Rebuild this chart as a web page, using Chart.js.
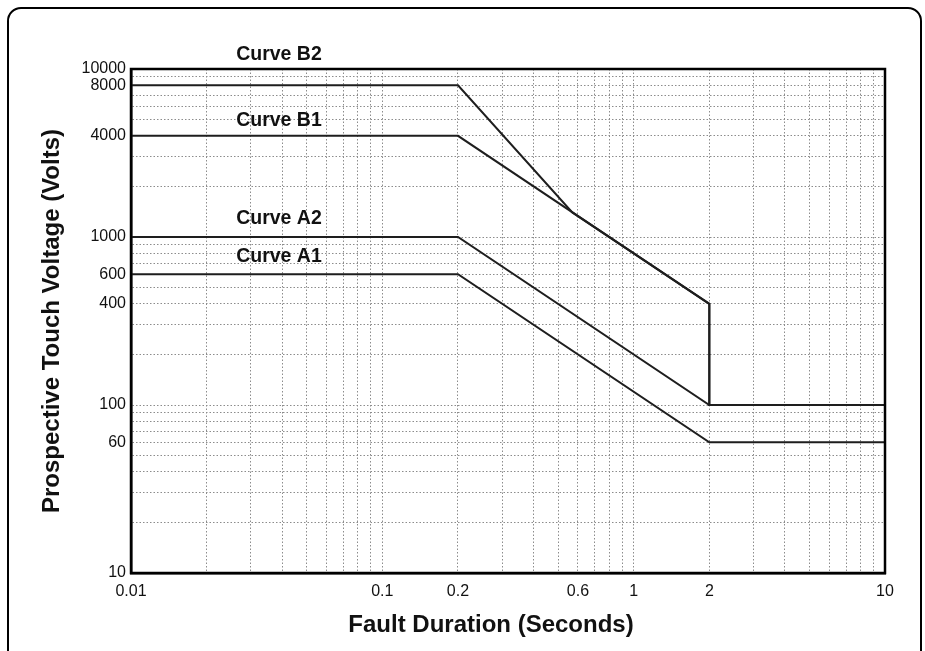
<!DOCTYPE html>
<html>
<head>
<meta charset="utf-8">
<script src="https://cdn.jsdelivr.net/npm/chart.js@4"></script>
<style>
  html, body { margin: 0; padding: 0; background: #fff; overflow: hidden; }
  #wrap { position: relative; width: 925px; height: 651px; }
  #frame {
    position: absolute; left: 7px; top: 7px; width: 911px; height: 670px;
    border: 2px solid #000; border-radius: 14px; pointer-events: none;
  }
</style>
</head>
<body>
<div id="wrap">
  <canvas id="chart" width="925" height="651"></canvas>
  <div id="frame"></div>
</div>
<script>
// curve data (time in seconds, touch voltage in volts)
const b2Time  = [0.01, 0.2, 0.57, 2, 2, 10];
const b2Volts = [8000, 8000, 1400, 400, 100, 100];
const b1Time  = [0.01, 0.2, 2, 2, 10];
const b1Volts = [4000, 4000, 400, 100, 100];
const a2Time  = [0.01, 0.2, 2, 10];
const a2Volts = [1000, 1000, 100, 100];
const a1Time  = [0.01, 0.2, 2, 10];
const a1Volts = [600, 600, 60, 60];

const curveNames = ['Curve B2', 'Curve B1', 'Curve A2', 'Curve A1'];

// labelled ticks
const xTickLabels = [0.01, 0.1, 0.2, 0.6, 1, 2, 10];
const yTickLabels = [10, 60, 100, 400, 600, 1000, 4000, 8000, 10000];

const FONT = '"Liberation Sans", Arial, Helvetica, sans-serif';

function toPoints(xs, ys) {
  return xs.map((x, i) => ({ x: x, y: ys[i] }));
}

// every 1..9 step of each decade gets a grid line
function logGrid(min, max) {
  const out = [];
  for (let d = min; d < max; d *= 10) {
    for (let m = 1; m < 10; m++) out.push(+(m * d).toPrecision(3));
  }
  out.push(max);
  return out;
}

function isLabelled(list, v) {
  return list.some(t => Math.abs(t - v) / t < 1e-6);
}

// solid box round the plot area (chart.js only draws left and bottom)
const frameBox = {
  id: 'frameBox',
  afterDraw(chart) {
    const ctx = chart.ctx, a = chart.chartArea;
    ctx.save();
    ctx.strokeStyle = '#000';
    ctx.lineWidth = 2.5;
    ctx.strokeRect(a.left, a.top, a.right - a.left, a.bottom - a.top);
    ctx.restore();
  }
};

// where the curve names sit (seconds, volts)
const labelTime = 0.0262;
const labelVolts = [12100, 4900, 1290, 760];

const curveLabels = {
  id: 'curveLabels',
  afterDraw(chart) {
    const ctx = chart.ctx;
    const xs = chart.scales.x, ys = chart.scales.y;
    ctx.save();
    ctx.fillStyle = '#111';
    ctx.font = 'bold 19.5px ' + FONT;
    ctx.textAlign = 'left';
    ctx.textBaseline = 'middle';
    curveNames.forEach((name, i) => {
      ctx.fillText(name, xs.getPixelForValue(labelTime), ys.getPixelForValue(labelVolts[i]));
    });
    // x axis title, sits a little left of centre in the original
    const a = chart.chartArea;
    ctx.font = 'bold 24px ' + FONT;
    ctx.textAlign = 'center';
    ctx.fillText('Fault Duration (Seconds)', (a.left + a.right) / 2 - 17, 625);
    ctx.restore();
  }
};

const lineStyle = {
  borderColor: '#1e1e1e',
  borderWidth: 2,
  pointRadius: 0,
  fill: false,
  tension: 0
};

new Chart(document.getElementById('chart').getContext('2d'), {
  type: 'line',
  data: {
    datasets: [
      Object.assign({ label: curveNames[0], data: toPoints(b2Time, b2Volts) }, lineStyle),
      Object.assign({ label: curveNames[1], data: toPoints(b1Time, b1Volts) }, lineStyle),
      Object.assign({ label: curveNames[2], data: toPoints(a2Time, a2Volts) }, lineStyle),
      Object.assign({ label: curveNames[3], data: toPoints(a1Time, a1Volts) }, lineStyle)
    ]
  },
  options: {
    responsive: false,
    animation: false,
    layout: { padding: { left: 0, top: 69, right: 40, bottom: 0 } },
    plugins: {
      legend: { display: false },
      tooltip: { enabled: false }
    },
    scales: {
      x: {
        type: 'logarithmic',
        min: 0.01,
        max: 10,
        afterBuildTicks: s => { s.ticks = logGrid(0.01, 10).map(v => ({ value: v })); },
        afterFit: s => { s.height = 78; },
        grid: { color: '#8c8c8c', lineWidth: 1, drawTicks: false },
        border: { display: true, color: '#000', width: 2.5, dash: [1.5, 2] },
        ticks: {
          autoSkip: false,
          maxRotation: 0,
          padding: 9,
          color: '#111',
          font: { family: FONT, size: 16 },
          callback: v => isLabelled(xTickLabels, v) ? String(v) : ''
        }
      },
      y: {
        type: 'logarithmic',
        min: 10,
        max: 10000,
        afterBuildTicks: s => { s.ticks = logGrid(10, 10000).map(v => ({ value: v })); },
        afterFit: s => { s.width = 131; },
        grid: { color: '#8c8c8c', lineWidth: 1, drawTicks: false },
        border: { display: true, color: '#000', width: 2.5, dash: [1.5, 2] },
        ticks: {
          autoSkip: false,
          padding: 5,
          color: '#111',
          font: { family: FONT, size: 16 },
          callback: v => isLabelled(yTickLabels, v) ? String(v) : ''
        },
        title: {
          display: true,
          text: 'Prospective Touch Voltage (Volts)',
          color: '#111',
          padding: { top: 38, bottom: 0 },
          font: { family: FONT, size: 24, weight: 'bold' }
        }
      }
    }
  },
  plugins: [frameBox, curveLabels]
});
</script>
</body>
</html>
